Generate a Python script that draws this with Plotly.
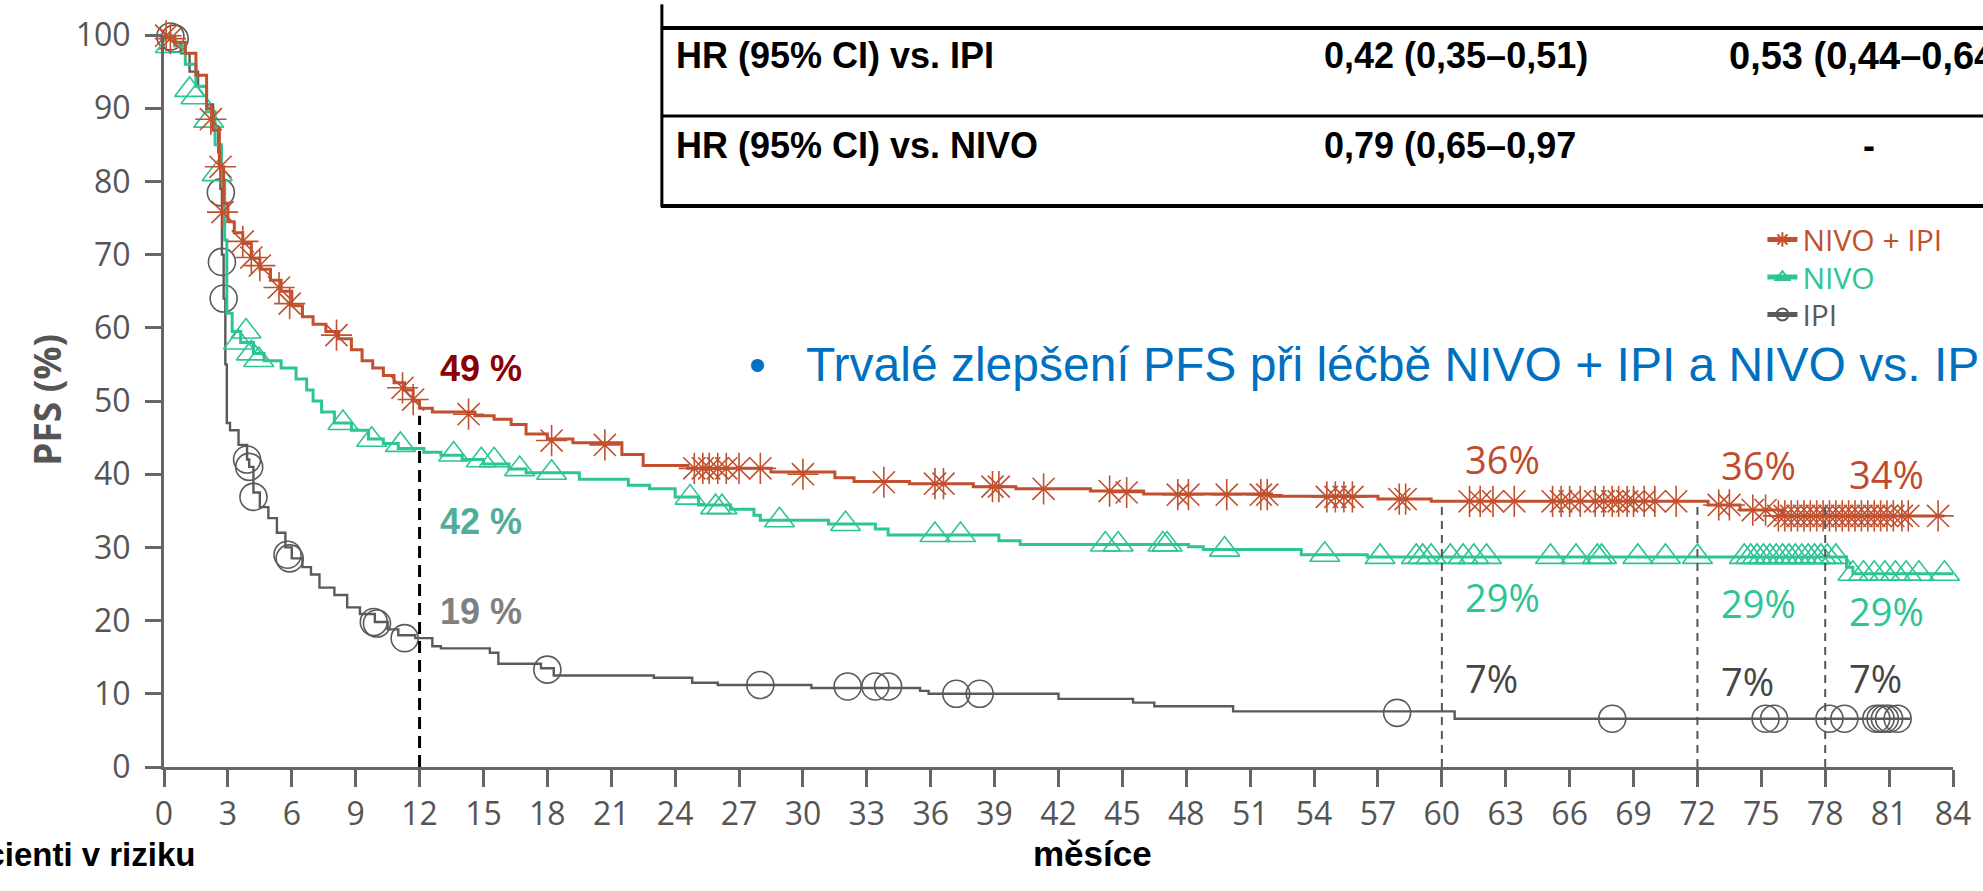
import plotly.graph_objects as go

# ---------------- data ----------------
# Kaplan-Meier step curves (months, PFS %)
combo_t = [0, 0.5, 1.0, 1.5, 2.0, 2.3, 2.6, 2.8, 3.0, 3.3, 3.7, 4.1, 4.5, 5.0, 5.5, 6.0, 6.5, 7.0,
           7.6, 8.2, 8.8, 9.3, 9.8, 10.3, 10.8, 11.3, 11.7, 12.0, 12.6, 14.6, 15.5, 16.3, 17.0, 18.0,
           19.2, 21.5, 22.5, 24.6, 28.5, 31.5, 32.4, 35.0, 38.0, 40.0, 43.5, 46.0, 52.0, 57.0, 59.5,
           72.5, 74.0, 76.0, 83.6]
combo_s = [100, 99, 97.5, 94.5, 90, 87, 82, 77, 74.5, 73, 71.5, 69.5, 68, 66.5, 65, 63, 61.5, 60.5,
           59.5, 58.5, 57, 55.5, 54.5, 53.5, 52.5, 51.5, 50, 49, 48.5, 48, 47.5, 46.8, 45.5, 44.8,
           44.3, 42.7, 41.2, 40.8, 40.3, 39.5, 39.0, 38.7, 38.3, 38.0, 37.7, 37.3, 37.0, 36.6, 36.3,
           35.8, 35.1, 34.3, 34.3]
combo_cens_t = [0.1, 0.3, 2.2, 2.65, 2.75, 3.7, 4.1, 4.5, 5.4, 5.9, 8.1, 11.2, 11.7, 14.3, 18.2,
                20.7, 24.9, 25.3, 25.6, 26.0, 26.4, 27.0, 28.0, 30.0, 33.8, 36.2, 36.6, 38.9, 39.2,
                41.3, 44.4, 45.2, 47.6, 48.1, 49.9, 51.5, 51.8, 54.6, 55.0, 55.4, 55.8, 58.0, 58.3,
                61.3, 61.8, 62.4, 63.4, 65.2, 65.6, 66.0, 66.5, 67.2, 67.6, 68.0, 68.3, 68.7, 69.0,
                69.5, 70.0, 71.0, 73.0, 73.5, 74.6, 75.2, 75.8, 76.1, 76.4, 76.7, 77.0, 77.3, 77.6,
                77.9, 78.2, 78.5, 78.8, 79.1, 79.4, 79.7, 80.0, 80.3, 80.6, 80.9, 81.2, 81.6, 81.9,
                83.3]
combo_cens_s = [99.9, 99.5, 88.5, 82, 75.8, 71.8, 69.6, 68.5, 65.5, 63.3, 59, 51.8, 50.2, 48.2, 44.6,
                44.0, 40.8, 40.8, 40.8, 40.8, 40.8, 40.8, 40.8, 40.0, 38.9, 38.7, 38.7, 38.3, 38.3,
                38.0, 37.7, 37.5, 37.2, 37.2, 37.2, 37.2, 37.2, 36.9, 36.9, 36.9, 36.9, 36.6, 36.6,
                36.3, 36.3, 36.3, 36.3, 36.3, 36.3, 36.3, 36.3, 36.3, 36.3, 36.3, 36.3, 36.3, 36.3,
                36.3, 36.3, 36.3, 35.8, 35.8, 35.1, 35.1, 34.3, 34.3, 34.3, 34.3, 34.3, 34.3, 34.3,
                34.3, 34.3, 34.3, 34.3, 34.3, 34.3, 34.3, 34.3, 34.3, 34.3, 34.3, 34.3, 34.3, 34.3,
                34.3]

nivo_t = [0, 0.5, 1.0, 1.5, 2.0, 2.4, 2.7, 2.85, 2.95, 3.2, 3.6, 4.2, 4.7, 5.5, 6.2, 6.7, 7.0, 7.4,
          8.0, 8.8, 9.6, 10.3, 11.0, 12.2, 13.0, 14.0, 15.0, 16.2, 17.0, 19.5, 21.8, 22.8, 24.0,
          25.1, 26.6, 27.7, 28.0, 31.2, 33.4, 34.0, 39.2, 40.2, 48.1, 48.8, 53.4, 56.5, 79.0, 79.3,
          84.0]
nivo_s = [100, 98.5, 96, 93, 89.5, 85, 80, 72, 62, 59.5, 58, 56.5, 55.5, 54.5, 53, 51.5, 50, 48.5,
          47, 46, 44.8, 44.2, 43.5, 43.0, 42.6, 42.0, 41.4, 40.7, 40.2, 39.3, 38.5, 38.0, 36.9,
          35.8, 35.2, 34.4, 33.7, 33.2, 32.5, 31.7, 30.9, 30.4, 30.1, 29.7, 29.0, 28.7, 27.3, 26.4,
          26.4]
nivo_cens_t = [0.3, 1.2, 1.5, 2.1, 2.5, 3.5, 3.85, 4.1, 4.45, 8.4, 9.75, 11.1, 13.6, 14.9, 15.5,
               16.7, 18.2, 24.7, 25.9, 26.2, 28.9, 32.0, 36.2, 37.4, 44.2, 44.8, 46.9, 47.1, 49.8,
               54.5, 57.1, 58.8, 59.1, 59.5, 60.4, 61.0, 61.5, 62.1, 65.1, 66.3, 67.3, 67.5, 69.2,
               70.5, 72.0, 74.2, 74.5, 74.8, 75.1, 75.4, 75.7, 76.0, 76.3, 76.6, 76.9, 77.2, 77.5,
               77.8, 78.1, 78.5, 79.3, 79.8, 80.3, 80.8, 81.3, 81.8, 82.4, 83.6]
nivo_cens_s = [98.5, 92.5, 91.5, 88.3, 81, 58, 59.5, 56.5, 55.6, 47, 44.7, 44.0, 42.7, 41.9, 41.9,
               40.7, 40.2, 36.8, 35.5, 35.5, 33.7, 33.2, 31.7, 31.7, 30.4, 30.4, 30.4, 30.4, 29.7,
               29.0, 28.7, 28.7, 28.7, 28.7, 28.7, 28.7, 28.7, 28.7, 28.7, 28.7, 28.7, 28.7, 28.7,
               28.7, 28.7, 28.7, 28.7, 28.7, 28.7, 28.7, 28.7, 28.7, 28.7, 28.7, 28.7, 28.7, 28.7,
               28.7, 28.7, 28.7, 26.4, 26.4, 26.4, 26.4, 26.4, 26.4, 26.4, 26.4]

ipi_t = [0, 0.5, 0.8, 1.2, 1.6, 2.0, 2.3, 2.55, 2.65, 2.72, 2.8, 2.88, 2.95, 3.1, 3.5, 3.9, 4.0,
         4.2, 4.5, 4.9, 5.3, 5.7, 6.0, 6.5, 6.9, 7.3, 8.0, 8.6, 9.2, 9.9, 10.5, 11.0, 11.8, 12.6,
         13.0, 15.3, 15.7, 17.7, 18.3, 23.0, 24.8, 26.0, 30.4, 35.5, 35.9, 42.0, 45.5, 46.5, 50.2,
         60.6, 82.0]
ipi_s = [100, 99, 97.5, 95, 93, 90.5, 87.5, 84, 79, 70, 64, 55, 47, 46, 44, 42, 41,
         37.5, 35.5, 34, 32, 30, 28.5, 27.3, 26.3, 24.5, 23.5, 21.8, 20.9, 19.8, 18.8, 18.0, 17.6,
         16.5, 16.2, 15.6, 14.1, 13.5, 12.5, 12.2, 11.5, 11.2, 10.8, 10.4, 10.0, 9.3, 8.8, 8.3,
         7.6, 6.6, 6.6]
ipi_cens_t = [0.3, 0.5, 2.67, 2.72, 2.8, 3.9, 4.0, 4.2, 5.8, 5.9, 9.85, 10.0, 11.3, 18.0, 28.0,
              32.1, 33.4, 34.0, 37.2, 38.3, 57.9, 68.0, 75.2, 75.6, 78.2, 78.9, 80.4, 80.6, 80.8,
              81.0, 81.4]
ipi_cens_s = [99.8, 99.5, 78.5, 69, 64, 42, 41, 36.9, 29, 28.5, 19.8, 19.6, 17.6, 13.3, 11.2,
              11.0, 11.0, 11.0, 10.0, 10.0, 7.4, 6.6, 6.6, 6.6, 6.6, 6.6, 6.6, 6.6, 6.6,
              6.6, 6.6]

arm_names = ["NIVO + IPI", "NIVO", "IPI"]

# landmark estimates shown next to the dashed guides
landmark_12 = 12
landmark_12_vals = [49, 42, 19]
landmarks_late = [60, 72, 78]
late_vals = {"NIVO + IPI": [36, 36, 34], "NIVO": [29, 29, 29], "IPI": [7, 7, 7]}

x_ticks = list(range(0, 85, 3))
y_ticks = list(range(0, 101, 10))

table_rows = ["HR (95% CI) vs. IPI", "HR (95% CI) vs. NIVO"]
table_col2 = ["0,42 (0,35–0,51)", "0,79 (0,65–0,97"]
table_col3 = ["0,53 (0,44–0,64)", "-"]

headline = "Trvalé zlepšení PFS při léčbě NIVO + IPI a NIVO vs. IPI"

# ---------------- styling ----------------
W, H = 1983, 891
ML, MR, MT, MB = 164, 26, 26, 124
PW, PH = W - ML - MR, H - MT - MB

RUST = "#C1502E"
TEAL = "#2DC496"
GREY = "#5A5A5A"
AXIS = "#666666"
TICKFONT = dict(family="Open Sans", size=32, color="#555555")
ARIAL = "Liberation Sans, Arial"


def fx(px):
    return (px - ML) / PW


def fy(py):
    return (H - MB - py) / PH


fig = go.Figure()

arms = [
    ("IPI", ipi_t, ipi_s, ipi_cens_t, ipi_cens_s, GREY, "circle-open", 27, 2.4),
    ("NIVO", nivo_t, nivo_s, nivo_cens_t, nivo_cens_s, TEAL, "triangle-up-open", 26, 3),
    ("NIVO + IPI", combo_t, combo_s, combo_cens_t, combo_cens_s, RUST, "asterisk-open", 26, 3),
]

for name, t, s, ct, cs, col, sym, msize, lw in arms:
    fig.add_trace(go.Scatter(x=t, y=s, mode="lines", line=dict(color=col, width=lw, shape="hv"),
                             showlegend=False, hoverinfo="skip", cliponaxis=False))
    fig.add_trace(go.Scatter(x=ct, y=cs, mode="markers",
                             marker=dict(symbol=sym, size=msize, color=col,
                                         line=dict(color=col, width=1.6)),
                             showlegend=False, cliponaxis=False))

# legend entries, one small legend per arm so the rows can be spaced freely
legend_style = {"NIVO + IPI": (RUST, "asterisk-open"), "NIVO": (TEAL, "triangle-up-open"),
                "IPI": (GREY, "circle-open")}
legend_ids = ["legend", "legend2", "legend3"]
legend_rows_py = [233, 271, 309]
for name, lid in zip(arm_names, legend_ids):
    col, sym = legend_style[name]
    fig.add_trace(go.Scatter(x=[None], y=[None], mode="lines+markers", legend=lid,
                             name=f'<span style="color:{col}">{name}</span>',
                             line=dict(color=col, width=2),
                             marker=dict(symbol=sym, size=12, color=col,
                                         line=dict(color=col, width=1.5))))

# dashed landmark guides
fig.add_shape(type="line", x0=landmark_12, x1=landmark_12, y0=0, y1=48,
              line=dict(color="black", width=3, dash="12px,7px"))
for lm in landmarks_late:
    fig.add_shape(type="line", x0=lm, x1=lm, y0=0, y1=36.2,
                  line=dict(color="#555555", width=2, dash="8px,6px"))

annotations = []
# 12-month labels
lab12_colors = ["#8B0000", "#52AD98", "#808080"]
lab12_y = [54.5, 33.5, 21.3]
for v, c, yy in zip(landmark_12_vals, lab12_colors, lab12_y):
    annotations.append(dict(x=landmark_12 + 0.85, y=yy, xref="x", yref="y", xanchor="left",
                            yanchor="middle", text=f"<b>{v} %</b>", showarrow=False,
                            font=dict(family=ARIAL, size=36, color=c)))

# late landmark labels
late_colors = {"NIVO + IPI": "#BF4B2C", "NIVO": "#2DC496", "IPI": "#454545"}
late_y = {"NIVO + IPI": [42.1, 41.3, 40.0], "NIVO": [23.2, 22.4, 21.3], "IPI": [12.1, 11.7, 12.2]}
for name in arm_names:
    for lm, v, yy in zip(landmarks_late, late_vals[name], late_y[name]):
        annotations.append(dict(x=lm + 1.0, y=yy, xref="x", yref="y", xanchor="left",
                                yanchor="middle", text=f"{v}%", showarrow=False,
                                font=dict(family="Open Sans", size=38, color=late_colors[name])))

# axis titles
annotations.append(dict(x=fx(46), y=fy(395), xref="paper", yref="paper", xanchor="center",
                        yanchor="middle", text="<b>PFS (%)</b>", textangle=-90, showarrow=False,
                        font=dict(family="Open Sans", size=37, color="#555555")))
annotations.append(dict(x=fx(1095), y=fy(876), xref="paper", yref="paper", text="<b>měsíce</b>",
                        showarrow=False, font=dict(family=ARIAL, size=35, color="black")))
annotations.append(dict(x=fx(197), y=fy(876), xref="paper", yref="paper", xanchor="right",
                        text="<b>Pacienti v riziku</b>", showarrow=False,
                        font=dict(family=ARIAL, size=33, color="black")))

# headline bullet
annotations.append(dict(x=fx(759), y=fy(360), xref="paper", yref="paper", xanchor="center",
                        yanchor="middle", text="•", showarrow=False,
                        font=dict(family=ARIAL, size=48, color="#0070C0")))
annotations.append(dict(x=fx(805), y=fy(360), xref="paper", yref="paper", xanchor="left",
                        yanchor="middle", text=headline, showarrow=False,
                        font=dict(family=ARIAL, size=48, color="#0070C0")))

# hazard-ratio table
row_y = [47, 138]
for lbl, c2, c3, yy in zip(table_rows, table_col2, table_col3, row_y):
    tf = dict(family=ARIAL, size=36, color="black")
    annotations.append(dict(x=fx(675), y=fy(yy), xref="paper", yref="paper", xanchor="left",
                            yanchor="middle", text=f"<b>{lbl}</b>", showarrow=False, font=tf))
    annotations.append(dict(x=fx(1325), y=fy(yy), xref="paper", yref="paper", xanchor="left",
                            yanchor="middle", text=f"<b>{c2}</b>", showarrow=False, font=tf))
    if c3 == "-":
        annotations.append(dict(x=fx(1873), y=fy(yy), xref="paper", yref="paper",
                                xanchor="center", yanchor="middle", text=f"<b>{c3}</b>",
                                showarrow=False, font=tf))
    else:
        annotations.append(dict(x=fx(1730), y=fy(yy), xref="paper", yref="paper",
                                xanchor="left", yanchor="middle", text=f"<b>{c3}</b>",
                                showarrow=False, font=dict(family=ARIAL, size=38, color="black")))

shapes_tbl = [
    dict(type="line", xref="paper", yref="paper", x0=fx(663), x1=fx(663), y0=fy(-5), y1=fy(200),
         line=dict(color="black", width=3)),
]
for py, w in [(19, 4), (108, 3), (199, 4)]:
    shapes_tbl.append(dict(type="line", xref="paper", yref="paper", x0=fx(662), x1=fx(2000),
                           y0=fy(py), y1=fy(py), line=dict(color="black", width=w)))
for s in shapes_tbl:
    fig.add_shape(**s)

legend_common = dict(xanchor="left", yanchor="middle", itemsizing="constant",
                     font=dict(family="Open Sans", size=30), bgcolor="rgba(0,0,0,0)")
legend_layout = {}
for lid, py in zip(legend_ids, legend_rows_py):
    legend_layout[lid] = dict(x=fx(1766), y=fy(py), **legend_common)

fig.update_layout(
    width=W, height=H,
    margin=dict(l=ML, r=MR, t=MT, b=MB, pad=0),
    paper_bgcolor="white", plot_bgcolor="white",
    showlegend=True,
    annotations=annotations,
    xaxis=dict(range=[0, 84], tickvals=x_ticks, ticks="outside", ticklen=17, tickwidth=3,
               tickcolor=AXIS, showline=True, linecolor=AXIS, linewidth=3, showgrid=False,
               zeroline=False, tickfont=TICKFONT),
    yaxis=dict(range=[0, 100], tickvals=y_ticks, ticks="outside", ticklen=16, tickwidth=3,
               tickcolor=AXIS, showline=True, linecolor=AXIS, linewidth=3, showgrid=False,
               zeroline=False, tickfont=TICKFONT, ticklabelstandoff=8),
    **legend_layout,
)

fig.write_html("out.html")
